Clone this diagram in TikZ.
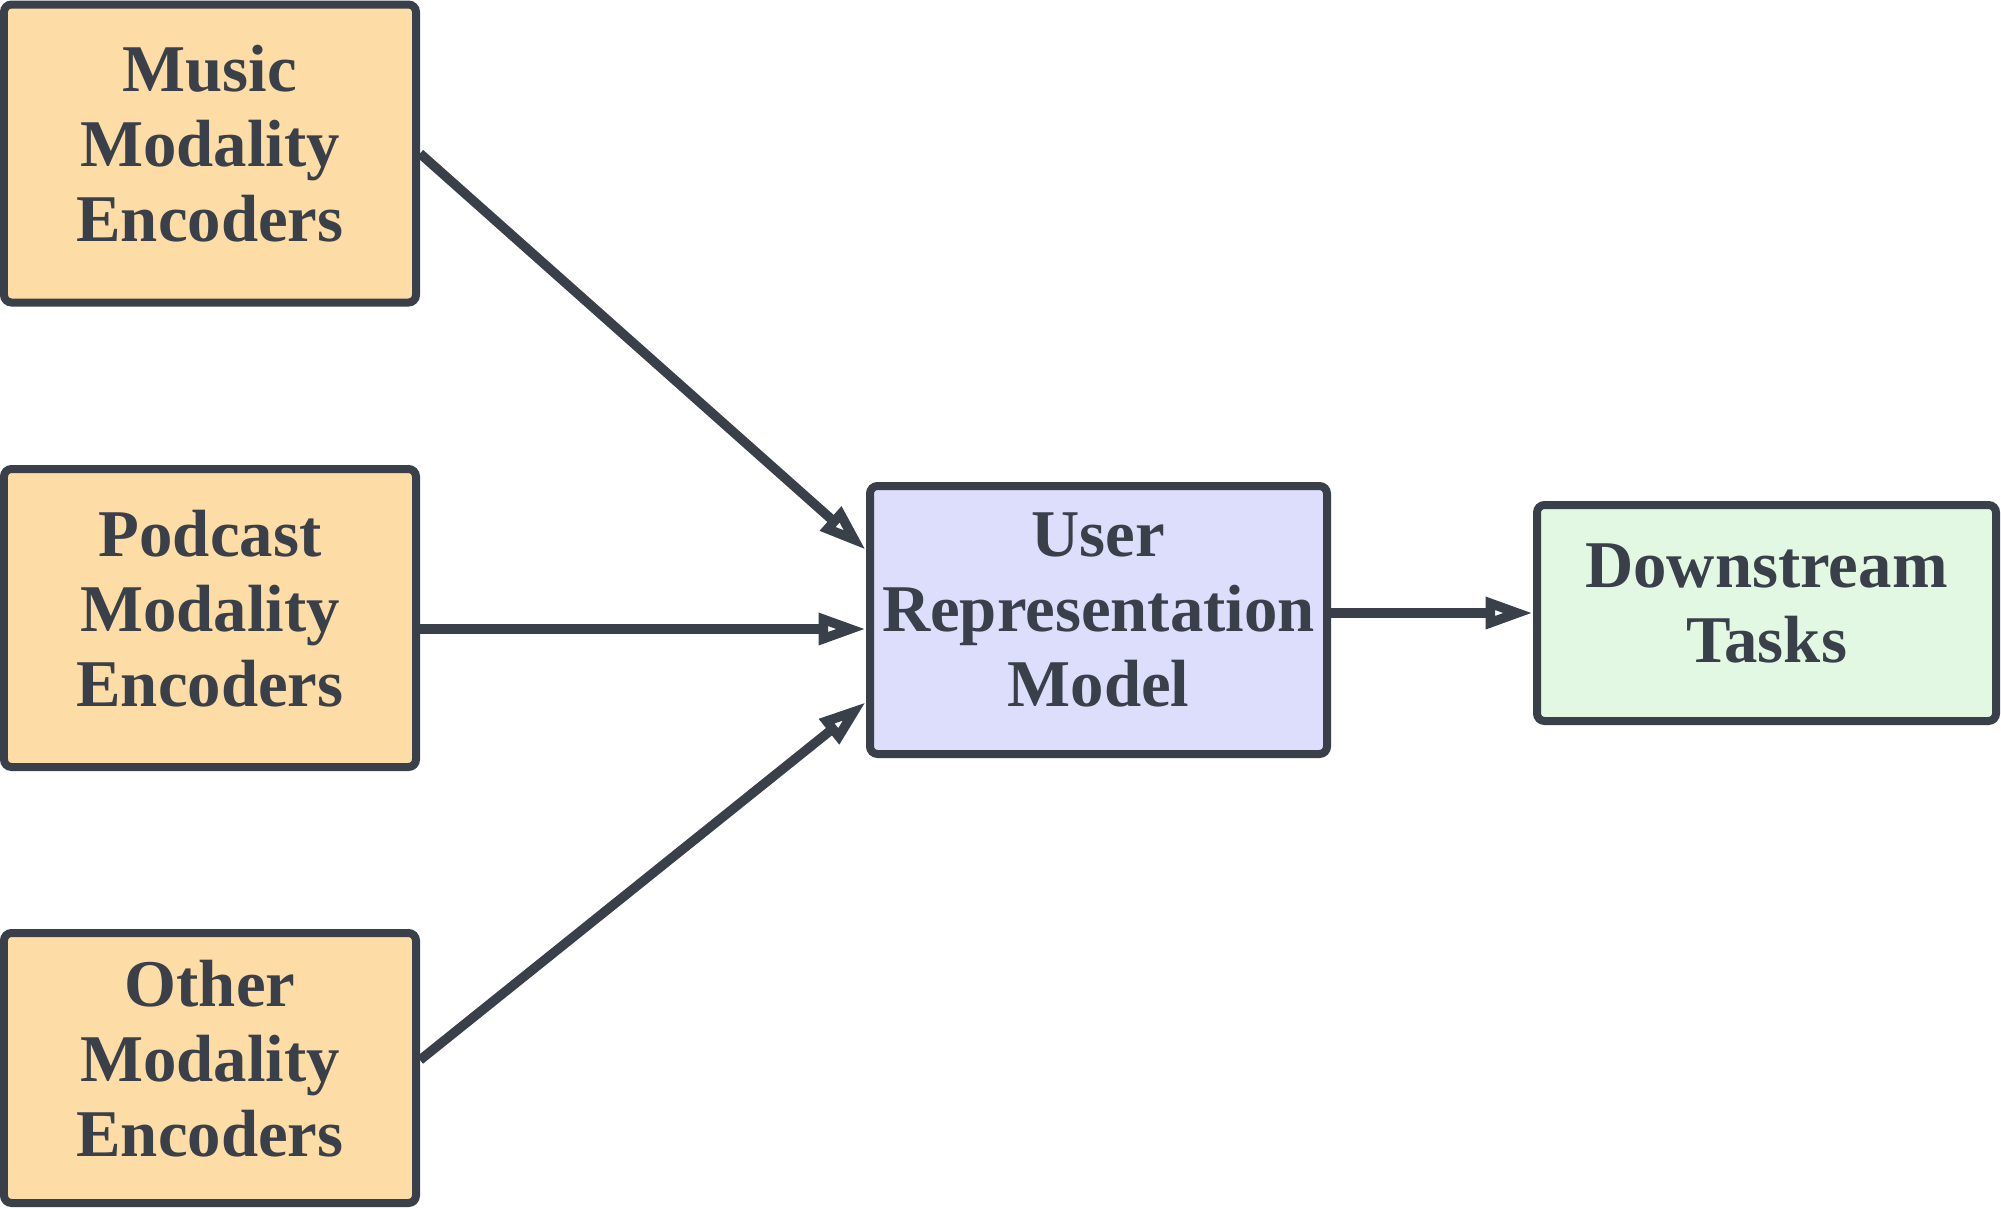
\documentclass[tikz,border=0pt]{standalone}
\usepackage{fontspec}
\setmainfont{Liberation Serif}
\usetikzlibrary{arrows.meta,positioning}
\definecolor{inkgray}{RGB}{58,64,74}
\definecolor{softpeach}{RGB}{254,220,166}
\definecolor{softlilac}{RGB}{221,222,252}
\definecolor{softmint}{RGB}{226,248,226}

\begin{document}
\begin{tikzpicture}[
    node distance=3.17cm,
    every node/.style={font=\fontsize{38}{42.7}\selectfont\bfseries, text=inkgray},
    box/.style={draw=inkgray, line width=0.16cm, rounded corners=0.15cm, align=center,
                execute at end node={\rule[-0.4cm]{0pt}{0pt}}},
    enc/.style={box, fill=softpeach, minimum width=8.24cm, minimum height=5.96cm},
    link/.style={draw=inkgray, line width=0.19cm, -{Triangle[open, length=0.95cm, width=0.6cm]}}
  ]
    \useasboundingbox (0,0) rectangle (40.02,-24.16);

    \node[enc] (music) at (4.2,-3.07) {Music\\Modality\\Encoders};
    \node[enc, below=of music] (podcast) {Podcast\\Modality\\Encoders};
    \node[enc, below=3.16cm of podcast, minimum height=5.4cm] (other) {Other\\Modality\\Encoders};
    \node[box, fill=softlilac, right=8.92cm of podcast, yshift=-0.04cm,
          minimum width=9.14cm, minimum height=5.36cm] (user) {User\\Representation\\Model};
    \node[box, fill=softmint, right=4.04cm of user, yshift=0.14cm,
          minimum width=9.18cm, minimum height=4.32cm] (down) {Downstream\\Tasks};

    \draw[link] (music.east) -- ([yshift=1.4cm]user.west);
    \draw[link] ([yshift=-0.22cm]podcast.east) -- ([yshift=-0.22cm]podcast.east -| user.west);
    \draw[link] ([yshift=0.16cm]other.east) -- ([yshift=-1.64cm]user.west);
    \draw[link] (down.west -| user.east) -- (down.west);
  \end{tikzpicture}
\end{document}
